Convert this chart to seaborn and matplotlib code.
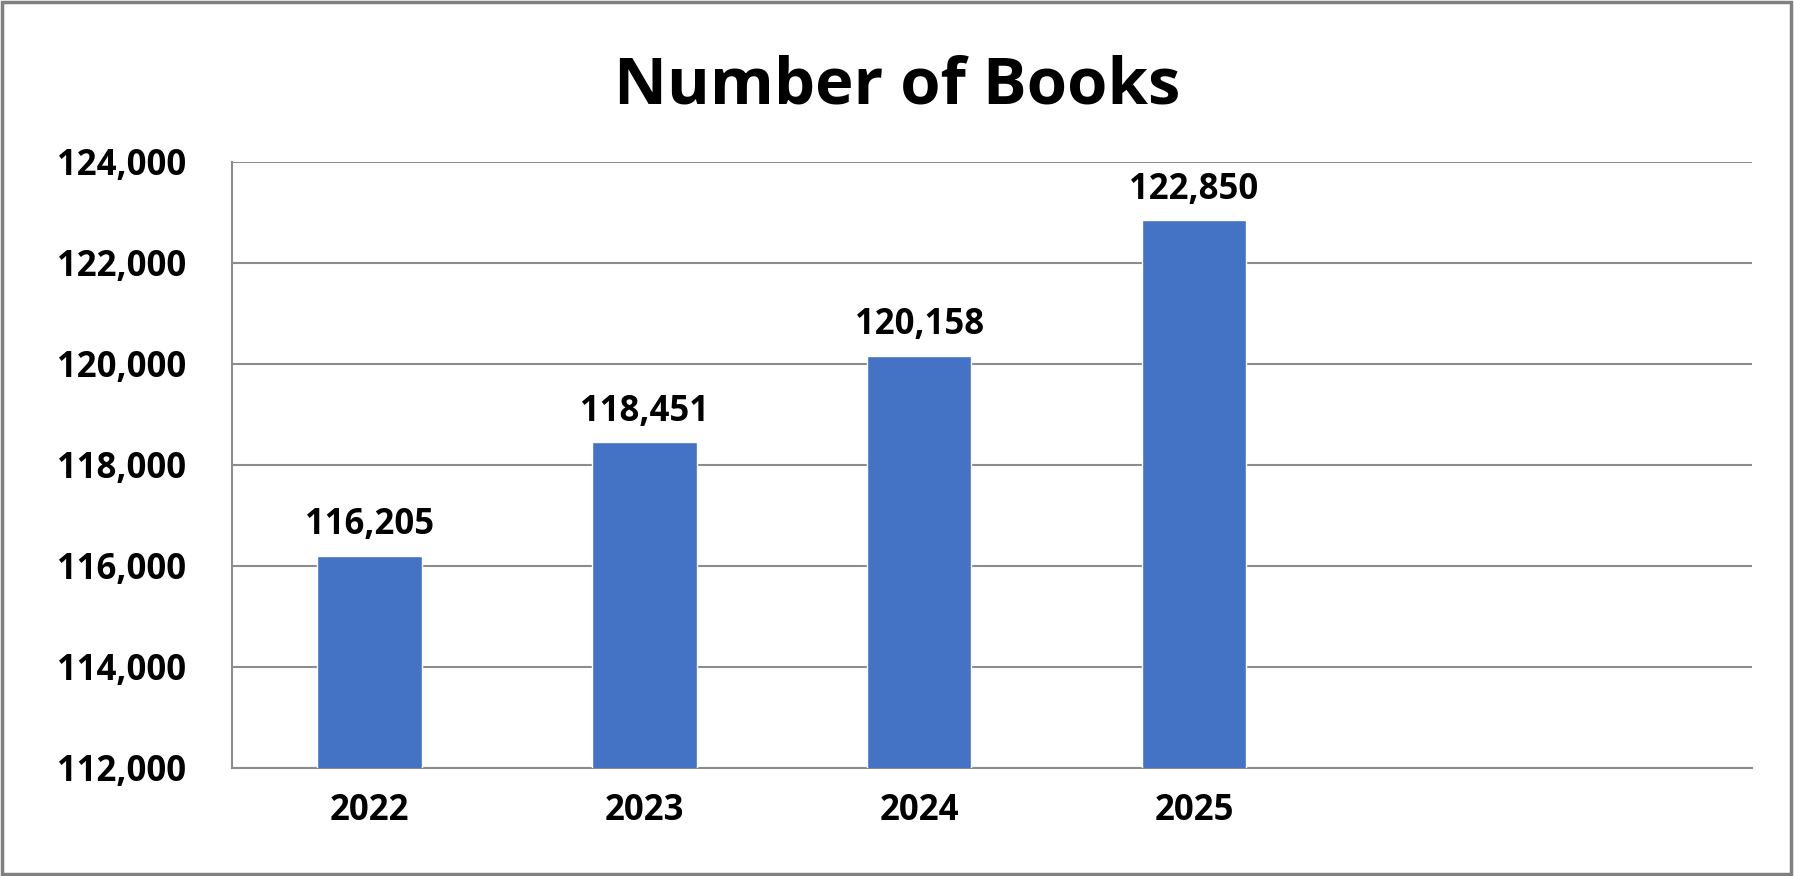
import matplotlib
matplotlib.use("Agg")
import matplotlib.pyplot as plt
import seaborn as sns
import pandas as pd
from matplotlib.ticker import FuncFormatter
from matplotlib.patches import Rectangle

years = ["2022", "2023", "2024", "2025"]
books = [116205, 118451, 120158, 122850]
title = "Number of Books"
y_ticks = [112000, 114000, 116000, 118000, 120000, 122000, 124000]

sns.set_theme(style="white")
plt.rcParams['font.family'] = ['Open Sans', 'DejaVu Sans']

W, H, DPI = 1795, 876, 100
fig = plt.figure(figsize=(W / DPI, H / DPI), dpi=DPI)
fig.patch.set_facecolor("white")
ax = fig.add_axes([232 / W, 1 - 768 / H, (1752 - 232) / W, (768 - 162) / H])

df = pd.DataFrame({"year": years, "books": books})
sns.barplot(data=df, x="year", y="books", order=years, color="#4472C4",
            saturation=1, width=0.38, ax=ax, zorder=3)

grid_c = "#8c8c8c"
ax.set_ylim(y_ticks[0], y_ticks[-1])
ax.set_yticks(y_ticks)
ax.set_xlim(-0.5, 5.03)
ax.yaxis.set_major_formatter(FuncFormatter(lambda v, p: f"{int(v):,}"))
ax.grid(axis="y", color=grid_c, linewidth=1.5, zorder=0)
ax.set_axisbelow(True)
for s in ["top", "right"]:
    ax.spines[s].set_visible(False)
for s in ["left", "bottom"]:
    ax.spines[s].set_color(grid_c)
    ax.spines[s].set_linewidth(1.5)
ax.tick_params(axis="y", length=11, width=1.5, color=grid_c, pad=22,
               labelsize=25, labelcolor="black")
ax.tick_params(axis="x", length=0, pad=18, labelsize=25, labelcolor="black")
for lab in ax.get_yticklabels() + ax.get_xticklabels():
    lab.set_fontweight("bold")
ax.set_xlabel("")
ax.set_ylabel("")

for i, v in enumerate(books):
    ax.annotate(f"{v:,}", xy=(i, v), xytext=(0, 15.5), textcoords="offset points",
                ha="center", va="baseline", fontsize=25, fontweight="bold",
                color="black")

fig.text(0.5, 1 - 104 / H, title, ha="center", va="baseline",
         fontsize=47, fontweight="bold", color="black")

fig.patches.append(Rectangle((0.001, 0.002), 0.997, 0.996, transform=fig.transFigure,
                             fill=False, edgecolor="#808080", linewidth=2.5))

fig.savefig("out.png", dpi=DPI, facecolor="white")
